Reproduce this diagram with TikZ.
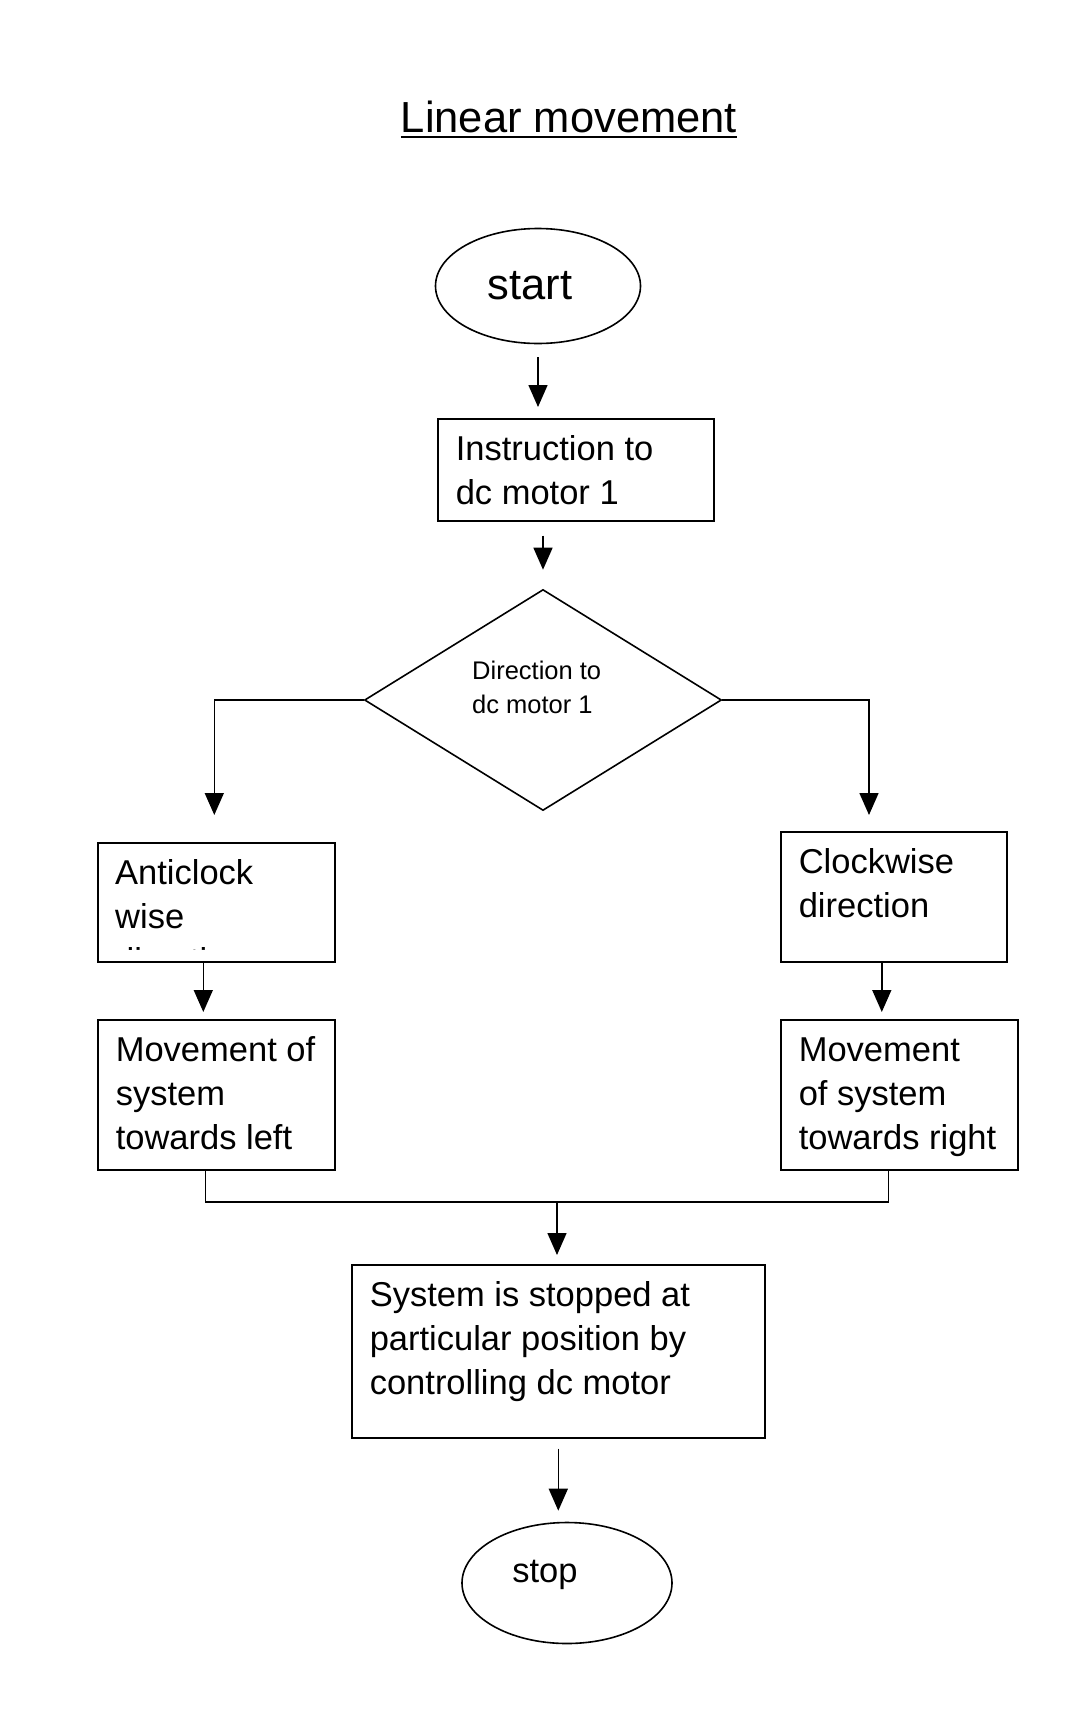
\documentclass[tikz,border=0pt]{standalone}
\usepackage{fontspec}
\setmainfont{Liberation Sans}
\usetikzlibrary{shapes.geometric,arrows.meta,positioning}

\newcommand{\boxfont}{\fontsize{34.5}{44}\selectfont}
\newcommand{\dirfont}{\fontsize{25.5}{34}\selectfont}
\newcommand{\titlefont}{\fontsize{43.5}{52}\selectfont}
% top aligned text in a box of fixed size
\newcommand{\boxtext}[3]{\parbox[c][#1][t]{#2}{\rule{0pt}{42pt}#3}}

\begin{document}
\begin{tikzpicture}[x=1pt,y=-1pt,
  box/.style={draw,line width=1.6pt,inner xsep=18pt,inner ysep=0pt,anchor=north west,font=\boxfont},
  boxtxt/.style={inner xsep=18pt,inner ysep=0pt,anchor=north west,font=\boxfont},
  term/.style={draw,ellipse,line width=1.6pt,inner sep=0pt},
  decision/.style={draw,diamond,line width=1.6pt,inner sep=0pt},
  arr/.style={line width=1.5pt,-{Triangle[width=19pt,length=22pt]}},
  line/.style={line width=1.5pt}]

\useasboundingbox (0,0) rectangle (1079,1716);

% title
\node[font=\titlefont,inner sep=0pt] (title) at (569,117) {Linear movement};
\draw[line width=1.8pt] ([yshift=-4.5pt]title.base west) -- ([yshift=-4.5pt]title.base east);

% nodes
\node[term,minimum width=205pt,minimum height=115pt] (start) at (538,286) {};
\node[font=\titlefont,anchor=base,inner sep=0pt] (startlabel) at (530,299) {start};

\node[box] (instr) at (437,418) {\boxtext{102pt}{240pt}{Instruction to\\dc motor 1}};

\node[decision,minimum width=357pt,minimum height=221pt] (dir) at (543,700) {};
\node[font=\dirfont,align=left,anchor=west,inner sep=0pt] (dirtext) at (472,687) {Direction to\\dc motor 1};

\node[box] (acw) at (97,842) {\boxtext{119pt}{201pt}{}};
\begin{scope}
\clip (acw.north west) rectangle ([yshift=13pt]acw.south east);
\node[boxtxt] (acwtext) at (acw.north west) {\boxtext{119pt}{201pt}{Anticlock\\wise\\direction}};
\end{scope}

\node[box] (cw) at (780,831) {\boxtext{130pt}{190pt}{Clockwise\\direction}};

\node[box] (movel) at (97,1019) {\boxtext{150pt}{201pt}{Movement of\\system\\towards left}};
\node[box] (mover) at (780,1019) {\boxtext{150pt}{201pt}{Movement\\of system\\towards right}};

\node[box] (sys) at (351,1264) {\boxtext{173pt}{377pt}{System is stopped at\\particular position by\\controlling dc motor}};

\node[term,minimum width=210pt,minimum height=121pt] (stop) at (567,1583) {};
\node[font=\boxfont,anchor=base,inner sep=0pt] (stoplabel) at (545,1582) {stop};

% connectors
\coordinate (rturn) at (869,700);
\coordinate (merge) at (557,1202);
\draw[arr,shorten <=13pt,shorten >=11pt] (start.south) -- (start.south |- instr.north);
\draw[arr,shorten <=14pt,shorten >=19pt] (dir.north |- instr.south) -- (dir.north);
\draw[arr,shorten >=27pt] (dir.west) -| ([xshift=-2pt]acw.north);
\draw[arr,shorten >=16pt] (dir.east) -- (rturn) -- (rturn |- cw.north);
\draw[arr,shorten >=7pt] ([xshift=-13pt]acw.south) -- ([xshift=-13pt]acw.south |- movel.north);
\draw[arr,shorten >=7pt] ([xshift=-12pt]cw.south) -- ([xshift=-12pt]cw.south |- mover.north);
\draw[line] ([xshift=-11pt]movel.south) |- (merge) -| ([xshift=-11pt]mover.south);
\draw[arr,shorten >=9pt] (merge) -- (merge |- sys.north);
\draw[arr,shorten <=10pt,shorten >=11pt] (sys.south) -- (sys.south |- stop.north);
\end{tikzpicture}
\end{document}
